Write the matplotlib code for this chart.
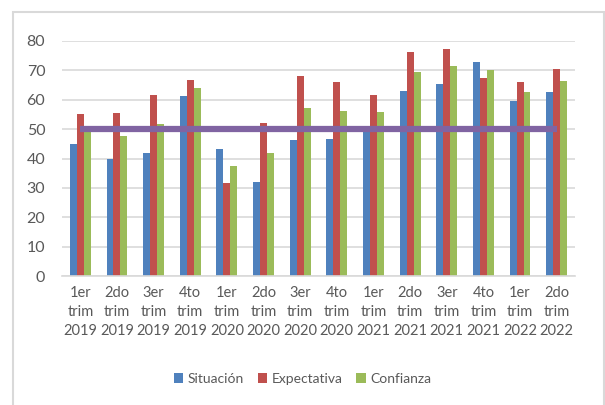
import matplotlib.pyplot as plt
import numpy as np
from matplotlib.patches import Rectangle

categories = ["1er\ntrim\n2019", "2do\ntrim\n2019", "3er\ntrim\n2019", "4to\ntrim\n2019",
              "1er\ntrim\n2020", "2do\ntrim\n2020", "3er\ntrim\n2020", "4to\ntrim\n2020",
              "1er\ntrim\n2021", "2do\ntrim\n2021", "3er\ntrim\n2021", "4to\ntrim\n2021",
              "1er\ntrim\n2022", "2do\ntrim\n2022"]
situacion = [45.0, 40.0, 42.0, 61.3, 43.3, 32.0, 46.2, 46.8, 49.8, 62.9, 65.5, 72.7, 59.7, 62.5]
expectativa = [55.3, 55.5, 61.6, 66.7, 31.5, 52.0, 68.0, 65.9, 61.5, 76.2, 77.3, 67.3, 65.9, 70.4]
confianza = [49.5, 47.8, 51.7, 64.0, 37.4, 42.0, 57.2, 56.2, 55.9, 69.5, 71.4, 70.0, 62.8, 66.4]
umbral = [50] * len(categories)

plt.rcParams['font.family'] = ['Lato', 'DejaVu Sans']
txt = "#595959"

fig = plt.figure(figsize=(6.05, 4.05), dpi=100)
ax = fig.add_axes([62 / 605, 1 - 276 / 405, (575 - 62) / 605, (276 - 41) / 405])

# outer frame
fig.patches.append(Rectangle((13 / 605, -0.05), (604 - 13) / 605, 1.05 - 12 / 405,
                             transform=fig.transFigure, fill=False,
                             edgecolor="#D9D9D9", linewidth=1.5))

x = np.arange(len(categories))
w = 0.19
ax.bar(x - w, situacion, w, color="#4F81BD", label="Situación", zorder=2)
ax.bar(x, expectativa, w, color="#C0504D", label="Expectativa", zorder=2)
ax.bar(x + w, confianza, w, color="#9BBB59", label="Confianza", zorder=2)
ax.plot(x, umbral, color="#8064A2", linewidth=4.5, solid_capstyle="butt", zorder=3)

ax.set_xlim(-0.5, len(categories) - 0.5)
ax.set_ylim(0, 80)
ax.set_yticks(range(0, 81, 10))
ax.yaxis.grid(True, color="#D9D9D9", linewidth=1.2, zorder=0)
ax.set_axisbelow(True)
for s in ["top", "right", "left"]:
    ax.spines[s].set_visible(False)
ax.spines["bottom"].set_color("#D9D9D9")
ax.spines["bottom"].set_linewidth(1.2)
ax.tick_params(length=0, colors=txt)
ax.tick_params(axis="y", pad=12, labelsize=11.5)
ax.tick_params(axis="x", pad=7, labelsize=10.5)
ax.set_xticks(x)
ax.set_xticklabels(categories, linespacing=1.45)

fig.legend(loc="center", bbox_to_anchor=(0.5, 1 - 379 / 405), ncol=3, frameon=False,
           fontsize=10, handlelength=0.7, handleheight=0.7, handletextpad=0.3,
           columnspacing=1.0, labelcolor=txt)

fig.savefig("out.png", dpi=100)
